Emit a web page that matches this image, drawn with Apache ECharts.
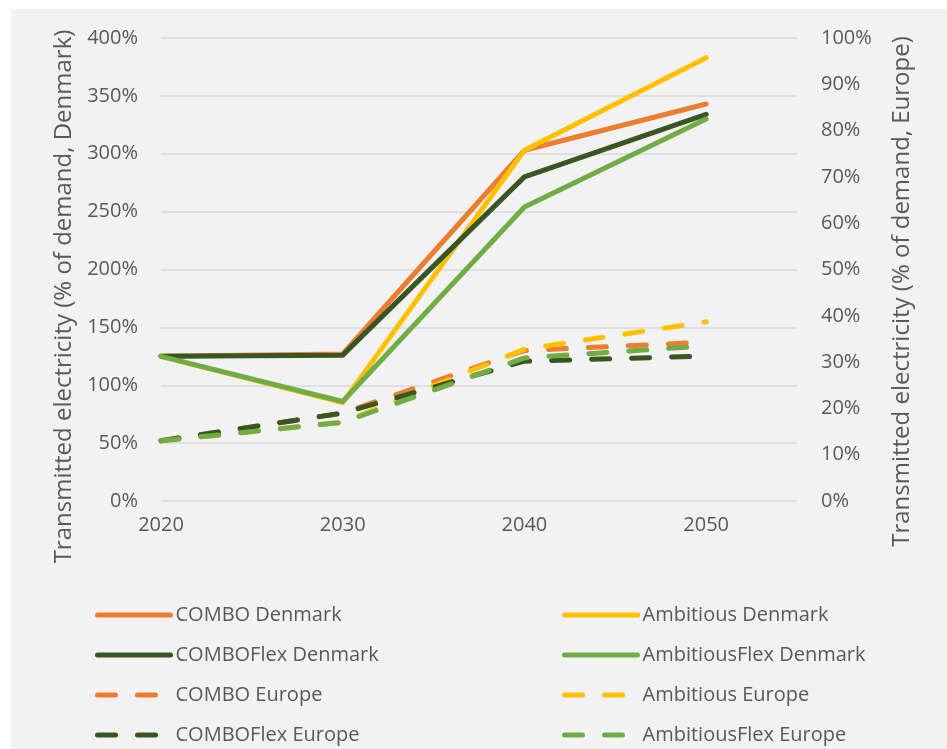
<!DOCTYPE html>
<html>
<head>
<meta charset="utf-8">
<script src="https://cdn.jsdelivr.net/npm/echarts@6/dist/echarts.min.js"></script>
<style>
  html, body { margin: 0; padding: 0; background: #ffffff; }
  #chart { width: 947px; height: 749px; }
</style>
</head>
<body>
<div id="chart"></div>
<script>
// years on the x axis
const years = [2020, 2030, 2040, 2050];
const yearTicks = [2020, 2030, 2040, 2050];

// Denmark, % of demand (left axis)
const comboDenmark = [125, 127, 303, 343];
const ambitiousDenmark = [125, 85, 303, 383];
const comboFlexDenmark = [125, 126, 280, 334];
const ambitiousFlexDenmark = [125, 86, 254, 330];

// Europe, % of demand (right axis)
const comboEurope = [13, 19, 32.5, 34.3];
const ambitiousEurope = [13, 17, 32.8, 38.7];
const comboFlexEurope = [13, 19, 30.2, 31.3];
const ambitiousFlexEurope = [13, 17, 30.9, 33.5];

const leftTicks = [0, 50, 100, 150, 200, 250, 300, 350, 400];
const rightTicks = [0, 10, 20, 30, 40, 50, 60, 70, 80, 90, 100];

const ORANGE = '#ED7D31';
const YELLOW = '#FFC000';
const DARKGREEN = '#375623';
const GREEN = '#70AD47';
const TXT = '#595959';
const FONT = 'Open Sans';
const DASH = [18, 22];

function pairs (vals) {
    return years.map((y, i) => [y, vals[i]]);
}

function mkSeries (name, vals, color, dashed, axis) {
    return {
        name: name,
        type: 'line',
        yAxisIndex: axis,
        data: pairs(vals),
        symbol: 'none',
        color: color,
        lineStyle: {
            color: color,
            width: 5,
            type: dashed ? DASH : 'solid',
            cap: 'round',
            join: 'round'
        },
        emphasis: { disabled: true },
        animation: false
    };
}

const chart = echarts.init(document.getElementById('chart'));

const legendText = { color: TXT, fontSize: 20, fontFamily: FONT, lineHeight: 20 };

function mkLegend (left, names) {
    return {
        orient: 'vertical',
        left: left,
        top: 600,
        height: 160,
        itemWidth: 73,
        itemHeight: 14,
        itemGap: 20,
        itemTextGap: 5,
        textStyle: legendText,
        itemStyle: { opacity: 0 },
        lineStyle: { width: 5, cap: 'round' },
        data: names
    };
}

const option = {
    backgroundColor: '#ffffff',
    graphic: [{
        type: 'rect',
        z: -10,
        shape: { x: 11, y: 9, width: 940, height: 745 },
        style: { fill: '#f2f2f2' },
        silent: true
    }],
    grid: { left: 161, right: 150, top: 38, bottom: 248 },
    legend: [
        mkLegend(90, ['COMBO Denmark', 'COMBOFlex Denmark', 'COMBO Europe', 'COMBOFlex Europe']),
        mkLegend(557, ['Ambitious Denmark', 'AmbitiousFlex Denmark', 'Ambitious Europe', 'AmbitiousFlex Europe'])
    ],
    xAxis: {
        type: 'value',
        min: 2020,
        max: 2055,
        interval: 10,
        axisLine: { show: false },
        axisTick: { show: false },
        splitLine: { show: false },
        axisLabel: {
            color: TXT,
            fontSize: 20,
            fontFamily: FONT,
            margin: 14,
            showMaxLabel: false,
            formatter: v => (yearTicks.indexOf(v) >= 0 ? String(v) : '')
        }
    },
    yAxis: [{
        type: 'value',
        min: leftTicks[0],
        max: leftTicks[leftTicks.length - 1],
        interval: 50,
        position: 'left',
        name: 'Transmitted electricity (% of demand, Denmark)',
        nameLocation: 'middle',
        nameRotate: 90,
        nameGap: 84,
        nameTextStyle: { color: TXT, fontSize: 24, fontFamily: FONT, padding: [0, 54, 0, 0] },
        axisLine: { show: false },
        axisTick: { show: false },
        splitLine: { lineStyle: { color: '#d9d9d9', width: 1.5 } },
        axisLabel: { color: TXT, fontSize: 20, fontFamily: FONT, margin: 23, formatter: '{value}%' }
    }, {
        type: 'value',
        min: rightTicks[0],
        max: rightTicks[rightTicks.length - 1],
        interval: 10,
        position: 'right',
        name: 'Transmitted electricity (% of demand, Europe)',
        nameLocation: 'middle',
        nameRotate: 90,
        nameGap: 93,
        nameTextStyle: { color: TXT, fontSize: 24, fontFamily: FONT, padding: [0, 44, 0, 0] },
        axisLine: { show: false },
        axisTick: { show: false },
        splitLine: { show: false },
        axisLabel: { color: TXT, fontSize: 20, fontFamily: FONT, margin: 24, formatter: '{value}%' }
    }],
    series: [
        mkSeries('COMBO Denmark', comboDenmark, ORANGE, false, 0),
        mkSeries('Ambitious Denmark', ambitiousDenmark, YELLOW, false, 0),
        mkSeries('COMBOFlex Denmark', comboFlexDenmark, DARKGREEN, false, 0),
        mkSeries('AmbitiousFlex Denmark', ambitiousFlexDenmark, GREEN, false, 0),
        mkSeries('COMBO Europe', comboEurope, ORANGE, true, 1),
        mkSeries('Ambitious Europe', ambitiousEurope, YELLOW, true, 1),
        mkSeries('COMBOFlex Europe', comboFlexEurope, DARKGREEN, true, 1),
        mkSeries('AmbitiousFlex Europe', ambitiousFlexEurope, GREEN, true, 1)
    ]
};

chart.setOption(option);
</script>
</body>
</html>
